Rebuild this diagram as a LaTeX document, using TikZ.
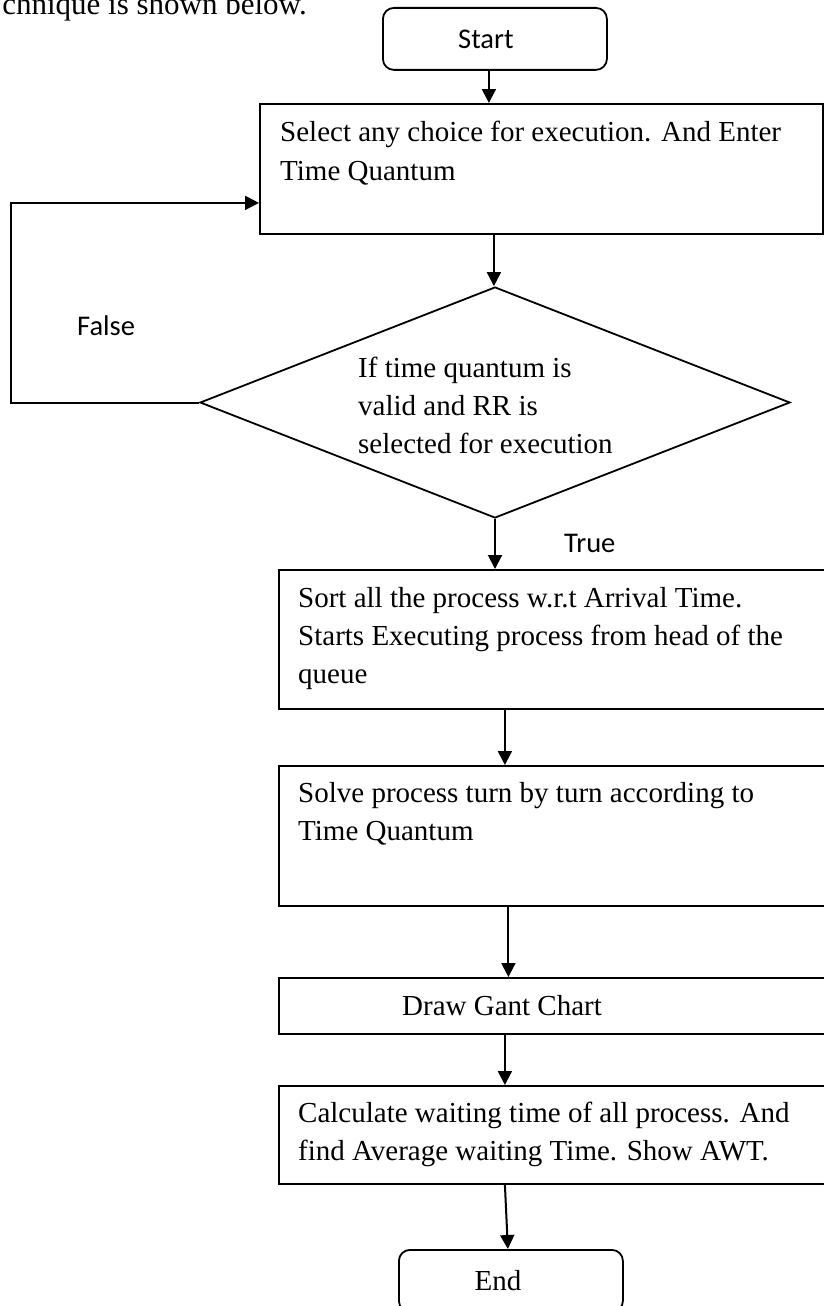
\documentclass[tikz,border=0pt]{standalone}
\usepackage{fontspec}
\setmainfont{Liberation Serif}
\newfontfamily\labelfont{Carlito}
\usetikzlibrary{shapes.geometric,arrows.meta}
\begin{document}
\begin{tikzpicture}[x=1pt,y=-1pt,
  box/.style={draw,line width=1.8pt,inner sep=0pt,anchor=north west},
  term/.style={draw,line width=1.8pt,rounded corners=11pt,inner sep=0pt,
    minimum width=224pt,minimum height=62pt,anchor=north west},
  txt/.style={inner sep=0pt,anchor=base west,align=left,
    font=\fontsize{29}{38}\selectfont},
  sans/.style={inner sep=0pt,anchor=base west,
    font=\labelfont\fontsize{28.5}{34}\selectfont},
  arr/.style={line width=2pt,-{Triangle[length=14pt,width=14pt]}}]
\useasboundingbox (0,0) rectangle (824,1306);
\clip (0,0) rectangle (824,1306);

% tail of the preceding sentence
\node[txt,anchor=base east,font=\fontsize{31}{36}\selectfont] (intro) at (307,15) {chnique is shown below.};

% terminals (text sits a little left of centre)
\node[term,font=\labelfont\fontsize{28.5}{34}\selectfont] (start) at (382,7) {Start\rule{18pt}{0pt}};
\node[term,font=\fontsize{29}{34}\selectfont] (end) at (398,1249) {End\rule{26pt}{0pt}};

% process boxes; multi-line texts are placed by their last baseline
\node[box,minimum width=563pt,minimum height=130pt] (box1) at (259,103) {};
\node[txt,font=\fontsize{29}{39.5}\selectfont] (t1) at (280,180.5)
  {Select any choice for execution. And Enter\\Time Quantum};

\node[draw,diamond,line width=1.8pt,inner sep=0pt,
  minimum width=590pt,minimum height=231pt] (dec) at (495,402.5) {};
\node[txt] (tdec) at (358,453)
  {If time quantum is\\valid and RR is\\selected for execution};

\node[box,minimum width=552pt,minimum height=139pt] (box2) at (278,569) {};
\node[txt] (t2) at (298,683)
  {Sort all the process w.r.t Arrival Time.\\Starts Executing process from head of the\\queue};

\node[box,minimum width=552pt,minimum height=140pt] (box3) at (278,765) {};
\node[txt] (t3) at (298,840)
  {Solve process turn by turn according to\\Time Quantum};

\node[box,minimum width=552pt,minimum height=56pt] (box4) at (278,977) {};
\node[txt] (t4) at (402,1015) {Draw Gant Chart};

\node[box,minimum width=552pt,minimum height=98pt] (box5) at (278,1085) {};
\node[txt] (t5) at (298,1160)
  {Calculate waiting time of all process. And\\find Average waiting Time. Show AWT.};

% branch labels
\node[sans] (lfalse) at (77,335) {False};
\node[sans] (ltrue) at (564,552) {True};

% connectors
\coordinate (loopx) at (11,0);
\draw[arr] ([xshift=-6pt]start.south) -- ([xshift=-6pt]start.south |- box1.north);
\draw[arr] ([xshift=-47.5pt]box1.south) -- ([xshift=-47.5pt]box1.south |- dec.north);
\draw[arr] (dec.south) -- (dec.south |- box2.north);
\draw[arr] (dec.west) -- (dec.west -| loopx) |- ([yshift=-34pt]box1.west);
\draw[arr] ([xshift=-50pt]box2.south) -- ([xshift=-50pt]box2.south |- box3.north);
\draw[arr] ([xshift=-46.5pt]box3.south) -- ([xshift=-46.5pt]box3.south |- box4.north);
\draw[arr] ([xshift=-50pt]box4.south) -- ([xshift=-50pt]box4.south |- box5.north);
\draw[arr] ([xshift=-50pt]box5.south) -- ([xshift=-3pt]end.north);
\end{tikzpicture}
\end{document}
